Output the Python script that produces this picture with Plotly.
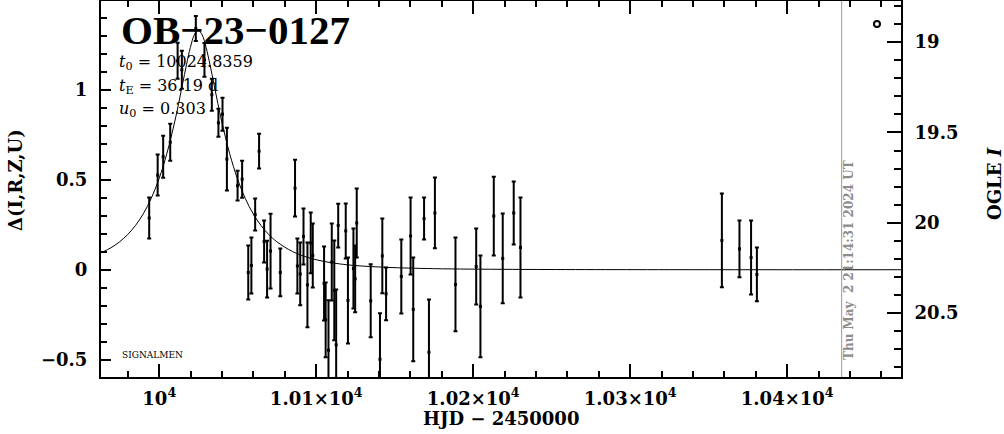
import plotly.graph_objects as go

# ---- data ----
hjd = [9993.6, 9999.0, 10002.5, 10007.0, 10011.7, 10014.4, 10023.3, 10028.8, 10033.5, 10037.7,
       10040.3, 10043.1, 10049.9, 10052.8, 10056.7, 10058.7, 10061.1, 10063.6, 10066.8, 10068.7,
       10070.9, 10077.1, 10086.5, 10088.0, 10089.8, 10091.9, 10094.4, 10096.5, 10097.8, 10105.0,
       10106.0, 10107.8, 10109.9, 10111.5, 10112.7, 10114.0, 10118.8, 10120.2, 10123.7, 10124.8,
       10125.8, 10134.7, 10140.6, 10142.1, 10144.5, 10154.2, 10160.1, 10161.8, 10168.7, 10171.8,
       10175.6, 10188.7, 10201.9, 10204.6, 10213.1, 10218.8, 10225.8, 10230.1, 10358.4, 10369.6,
       10377.0, 10380.7]
delta = [0.288, 0.527, 0.629, 0.710, 1.163, 1.113, 1.343, 1.168, 0.974, 0.818,
         0.866, 0.616, 0.468, 0.504, -0.015, 0.024, 0.307, 0.660, 0.157, 0.004,
         0.104, -0.015, 0.454, 0.021, -0.023, 0.185, -0.084, 0.149, 0.079, -0.076,
         -0.279, -0.448, 0.043, -0.115, -0.418, 0.246, 0.216, -0.171, 0.007, -0.051,
         0.260, -0.173, -0.498, 0.077, -0.134, -0.037, 0.188, -0.221, 0.285, -0.459,
         0.316, -0.082, 0.018, -0.204, 0.299, 0.063, 0.316, 0.124, 0.163, 0.116,
         0.068, -0.026]
delta_err = [0.114, 0.114, 0.117, 0.103, 0.100, 0.106, 0.069, 0.094, 0.089, 0.078,
             0.092, 0.175, 0.083, 0.103, 0.150, 0.156, 0.089, 0.097, 0.117, 0.158,
             0.208, 0.133, 0.158, 0.153, 0.175, 0.156, 0.236, 0.169, 0.178, 0.206,
             0.208, 0.278, 0.214, 0.278, 0.308, 0.122, 0.153, 0.239, 0.222, 0.186,
             0.192, 0.203, 0.256, 0.208, 0.147, 0.206, 0.214, 0.289, 0.117, 0.294,
             0.197, 0.261, 0.211, 0.283, 0.219, 0.250, 0.175, 0.278, 0.261, 0.158,
             0.206, 0.150]

model_t = [9962.8, 9969.84, 9974.84, 9979.84, 9984.84, 9989.84, 9994.84, 9999.84, 10004.84,
           10009.84, 10012.34, 10014.84, 10017.34, 10019.84, 10022.34, 10024.84, 10027.34,
           10029.84, 10032.34, 10034.84, 10037.34, 10039.84, 10044.84, 10049.84, 10054.84,
           10059.84, 10064.84, 10069.84, 10074.84, 10084.84, 10094.84, 10104.84, 10114.84,
           10124.84, 10144.84, 10174.84, 10224.84, 10324.84, 10472.5]
model_delta = [0.0934, 0.1256, 0.1562, 0.1954, 0.2461, 0.3114, 0.3961, 0.5058, 0.6466,
               0.8237, 0.9253, 1.0331, 1.1409, 1.2377, 1.3072, 1.3329, 1.3072,
               1.2377, 1.1409, 1.0331, 0.9253, 0.8237, 0.6466, 0.5058, 0.3961,
               0.3114, 0.2461, 0.1954, 0.1562, 0.1016, 0.0679, 0.0465, 0.0327,
               0.0234, 0.0134, 0.0060, 0.0021, 0.0004, 0.0001]

legend_pt_t = [10457.2]
legend_pt_d = [1.368]
now_line_t = 10434.7

x_range = [9962.9, 10472.5]
y_range = [-0.597, 1.496]
mag_range = [20.854, 18.772]

x_tickvals = [10000, 10100, 10200, 10300, 10400]
x_ticktext = ["10<sup>4</sup>", "1.01×10<sup>4</sup>", "1.02×10<sup>4</sup>",
              "1.03×10<sup>4</sup>", "1.04×10<sup>4</sup>"]
y_tickvals = [-0.5, 0, 0.5, 1]
y_ticktext = ["−0.5", "0", "0.5", "1"]
mag_tickvals = [19, 19.5, 20, 20.5]
mag_ticktext = ["19", "19.5", "20", "20.5"]

title_text = "OB−23−0127"
param_lines = ["<i>t</i><sub>0</sub> = 10024.8359",
               "<i>t</i><sub>E</sub> = 36.19 d",
               "<i>u</i><sub>0</sub> = 0.303"]
stamp_text = "Thu May  2 21:14:31 2024 UT"

TF = "DejaVu Serif"

fig = go.Figure()

fig.add_trace(go.Scatter(x=model_t, y=model_delta, mode="lines", line_shape="spline",
                         line=dict(color="black", width=1), hoverinfo="skip", showlegend=False))

fig.add_trace(go.Scatter(x=hjd, y=delta, mode="markers",
                         marker=dict(symbol="square", size=3, color="black"),
                         error_y=dict(type="data", array=delta_err, color="black",
                                      thickness=2, width=2),
                         showlegend=False))

fig.add_trace(go.Scatter(x=legend_pt_t, y=legend_pt_d, mode="markers",
                         marker=dict(symbol="circle-open", size=6, color="black",
                                     line=dict(width=2, color="black")),
                         showlegend=False))

fig.add_trace(go.Scatter(x=[], y=[], yaxis="y2", showlegend=False))

fig.add_shape(type="line", xref="x", yref="paper", x0=now_line_t, x1=now_line_t,
              y0=0, y1=1, line=dict(color="#999999", width=1))

L, R, T, B = 101, 103, 1, 57
W, H = 1004, 434
pw, ph = W - L - R, H - T - B


def px(xp):
    return (xp - L) / pw


def py(yp):
    return (H - B - yp) / ph


ann = []
ann.append(dict(x=px(119), y=py(30), text="<b>" + title_text + "</b>", showarrow=False,
                xanchor="left", yanchor="middle",
                font=dict(family="Liberation Serif", size=41, color="black")))
for i, (line, yc) in enumerate(zip(param_lines, [63, 86, 109])):
    ann.append(dict(x=px(117), y=py(yc), text=line, showarrow=False, xanchor="left",
                    yanchor="middle", font=dict(family=TF, size=16, color="black")))
ann.append(dict(x=px(849), y=py(260), text="<b>" + stamp_text + "</b>", showarrow=False,
                textangle=-90, xanchor="center", yanchor="middle",
                font=dict(family=TF, size=12, color="#8c8c8c")))
ann.append(dict(x=px(152.5), y=py(355), text="SIGNALMEN", showarrow=False,
                xanchor="center", yanchor="middle", font=dict(family=TF, size=9, color="black")))
ann.append(dict(x=px(15), y=py(180), text="<b>Δ(I,R,Z,U)</b>", showarrow=False,
                textangle=-90, xanchor="center", yanchor="middle",
                font=dict(family=TF, size=18, color="black")))
ann.append(dict(x=px(994), y=py(184), text="<b>OGLE <i>I</i></b>", showarrow=False,
                textangle=-90, xanchor="center", yanchor="middle",
                font=dict(family=TF, size=18, color="black")))
ann.append(dict(x=px(501), y=py(418), text="<b>HJD − 2450000</b>", showarrow=False,
                xanchor="center", yanchor="middle",
                font=dict(family=TF, size=18, color="black")))
for a in ann:
    a["xref"] = "paper"
    a["yref"] = "paper"

tickfont = dict(family=TF, size=18, color="black")

fig.update_layout(
    width=W, height=H,
    margin=dict(l=L, r=R, t=T, b=B, pad=0, autoexpand=False),
    paper_bgcolor="white", plot_bgcolor="white",
    showlegend=False,
    annotations=ann,
    xaxis=dict(range=x_range, showgrid=False, zeroline=False, showline=True, automargin=False,
               linecolor="black", linewidth=2, mirror="ticks",
               ticks="inside", ticklen=13, tickwidth=2, tickcolor="black",
               tickvals=x_tickvals, ticktext=["<b>" + t + "</b>" for t in x_ticktext],
               tickfont=tickfont, ticklabelstandoff=4,
               minor=dict(ticks="inside", dtick=20, tick0=10000, ticklen=6,
                          tickwidth=2, tickcolor="black", showgrid=False)),
    yaxis=dict(range=y_range, showgrid=False, zeroline=False, showline=True, automargin=False,
               linecolor="black", linewidth=2, mirror=False,
               ticks="inside", ticklen=10, tickwidth=2, tickcolor="black",
               tickvals=y_tickvals, ticktext=["<b>" + t + "</b>" for t in y_ticktext],
               tickfont=tickfont, ticklabelstandoff=8,
               minor=dict(ticks="inside", dtick=0.1, tick0=0, ticklen=6,
                          tickwidth=2, tickcolor="black", showgrid=False)),
    yaxis2=dict(range=mag_range, overlaying="y", side="right", showgrid=False, automargin=False,
                zeroline=False, showline=True, linecolor="black", linewidth=2,
                ticks="inside", ticklen=14, tickwidth=2, tickcolor="black",
                tickvals=mag_tickvals, ticktext=["<b>" + t + "</b>" for t in mag_ticktext],
                tickfont=tickfont, ticklabelstandoff=8,
                minor=dict(ticks="inside", dtick=0.1, tick0=19, ticklen=7,
                           tickwidth=2, tickcolor="black", showgrid=False)),
)

fig.write_html("out.html", config={"displayModeBar": False},
               post_script="document.body.style.margin='0px';document.body.style.padding='0px';")
